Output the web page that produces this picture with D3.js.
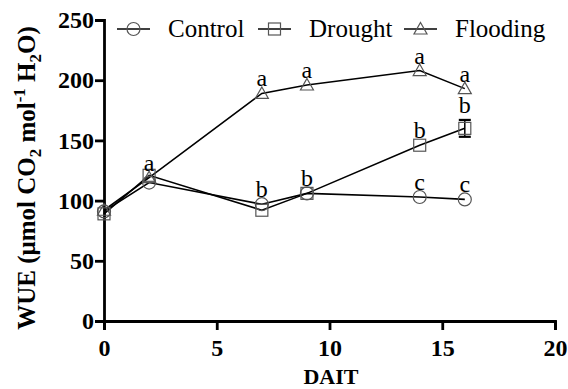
<!DOCTYPE html>
<html>
<head>
<meta charset="utf-8">
<script src="https://d3js.org/d3.v7.min.js"></script>
<style>
  body { margin: 0; background: #fff; }
  svg text { font-family: 'Liberation Serif', 'Times New Roman', Times, 'DejaVu Serif', serif !important; fill: #000; }
  .axis path, .axis line { stroke: #000; stroke-width: 2.8px; }
  .axis text { font-size: 24px; font-weight: bold; }
</style>
</head>
<body>
<script>
var days = [0, 2, 7, 9, 14, 16];
var control = [91, 115, 97, 106, 103, 101];
var drought = [89, 121, 92, 106, 146, 160];
var flooding = [92, 119, 189, 196, 208, 193];
var droughtErr = [0, 0, 0, 0, 0, 7];
var controlLetters = ["", "", "b", "b", "c", "c"];
var droughtLetters = ["", "", "", "", "b", "b"];
var floodingLetters = ["", "a", "a", "a", "a", "a"];
var xTicks = [0, 5, 10, 15, 20];
var yTicks = [0, 50, 100, 150, 200, 250];

var width = 568, height = 389;
var svg = d3.select("body").append("svg").attr("width", width).attr("height", height);

var x = d3.scaleLinear().domain([0, 20]).range([104, 555]);
var y = d3.scaleLinear().domain([0, 250]).range([321, 20]);

svg.append("g").attr("class", "axis")
    .attr("transform", "translate(0,321)")
    .call(d3.axisBottom(x).tickValues(xTicks).tickSizeOuter(0).tickSize(9).tickPadding(9))
    .attr("font-family", null);
svg.append("g").attr("class", "axis")
    .attr("transform", "translate(104,0)")
    .call(d3.axisLeft(y).tickValues(yTicks).tickSizeOuter(0).tickSize(9).tickPadding(1))
    .attr("font-family", null);

svg.append("text").attr("x", 331).attr("y", 384).attr("text-anchor", "middle")
    .style("font-size", "22px").style("font-weight", "bold").text("DAIT");

var yt = svg.append("text").attr("transform", "translate(35,178) rotate(-90)")
    .attr("text-anchor", "middle").style("font-size", "25px").style("font-weight", "bold");
yt.append("tspan").text("WUE (\u03bcmol CO");
yt.append("tspan").attr("dy", 6).style("font-size", "17px").text("2");
yt.append("tspan").attr("dy", -6).text(" mol");
yt.append("tspan").attr("dy", -10).style("font-size", "17px").text("-1");
yt.append("tspan").attr("dy", 10).text(" H");
yt.append("tspan").attr("dy", 6).style("font-size", "17px").text("2");
yt.append("tspan").attr("dy", -6).text("O)");

var series = [
  { name: "Control", vals: control, letters: controlLetters, shape: "circle" },
  { name: "Drought", vals: drought, letters: droughtLetters, shape: "square" },
  { name: "Flooding", vals: flooding, letters: floodingLetters, shape: "triangle" }
];

function marker(g, shape, cx, cy) {
  if (shape === "circle") {
    g.append("circle").attr("cx", cx).attr("cy", cy).attr("r", 6.5)
      .attr("fill", "none").attr("stroke", "#555").attr("stroke-width", 1.2);
  } else if (shape === "square") {
    g.append("rect").attr("x", cx - 6).attr("y", cy - 6).attr("width", 12).attr("height", 12)
      .attr("fill", "none").attr("stroke", "#555").attr("stroke-width", 1.2);
  } else {
    g.append("path").attr("d", "M" + cx + "," + (cy - 6.5) + "L" + (cx + 6.5) + "," + (cy + 5) + "L" + (cx - 6.5) + "," + (cy + 5) + "Z")
      .attr("fill", "none").attr("stroke", "#555").attr("stroke-width", 1.2);
  }
}

var line = d3.line().x(function (d, i) { return x(days[i]); }).y(function (d) { return y(d); });

series.forEach(function (s) {
  svg.append("path").attr("d", line(s.vals)).attr("fill", "none")
    .attr("stroke", "#000").attr("stroke-width", 1.6);
});

// error bar
drought.forEach(function (v, i) {
  if (!droughtErr[i]) return;
  var cx = x(days[i]);
  svg.append("line").attr("x1", cx).attr("x2", cx).attr("y1", y(v + droughtErr[i])).attr("y2", y(v - droughtErr[i])).attr("stroke", "#000").attr("stroke-width", 1.5);
  [v + droughtErr[i], v - droughtErr[i]].forEach(function (e) {
    svg.append("line").attr("x1", cx - 6).attr("x2", cx + 6).attr("y1", y(e)).attr("y2", y(e)).attr("stroke", "#000").attr("stroke-width", 2.2);
  });
});

series.forEach(function (s) {
  var g = svg.append("g");
  s.vals.forEach(function (v, i) { marker(g, s.shape, x(days[i]), y(v)); });
});

// significance letters
series.forEach(function (s) {
  s.vals.forEach(function (v, i) {
    if (!s.letters[i]) return;
    var top = v + (s.name === "Drought" && droughtErr[i] ? droughtErr[i] : 0);
    svg.append("text").attr("x", x(days[i])).attr("y", y(top) - 7)
      .attr("text-anchor", "middle").style("font-size", "24px").text(s.letters[i]);
  });
});

// legend
var legX = [117, 258, 404];
series.forEach(function (s, i) {
  var g = svg.append("g");
  g.append("line").attr("x1", legX[i]).attr("x2", legX[i] + 33).attr("y1", 29).attr("y2", 29)
    .attr("stroke", "#000").attr("stroke-width", 1.6);
  marker(g, s.shape, legX[i] + 16.5, 29);
  g.append("text").attr("x", legX[i] + 51).attr("y", 37).style("font-size", "25px").text(s.name);
});
</script>
</body>
</html>
